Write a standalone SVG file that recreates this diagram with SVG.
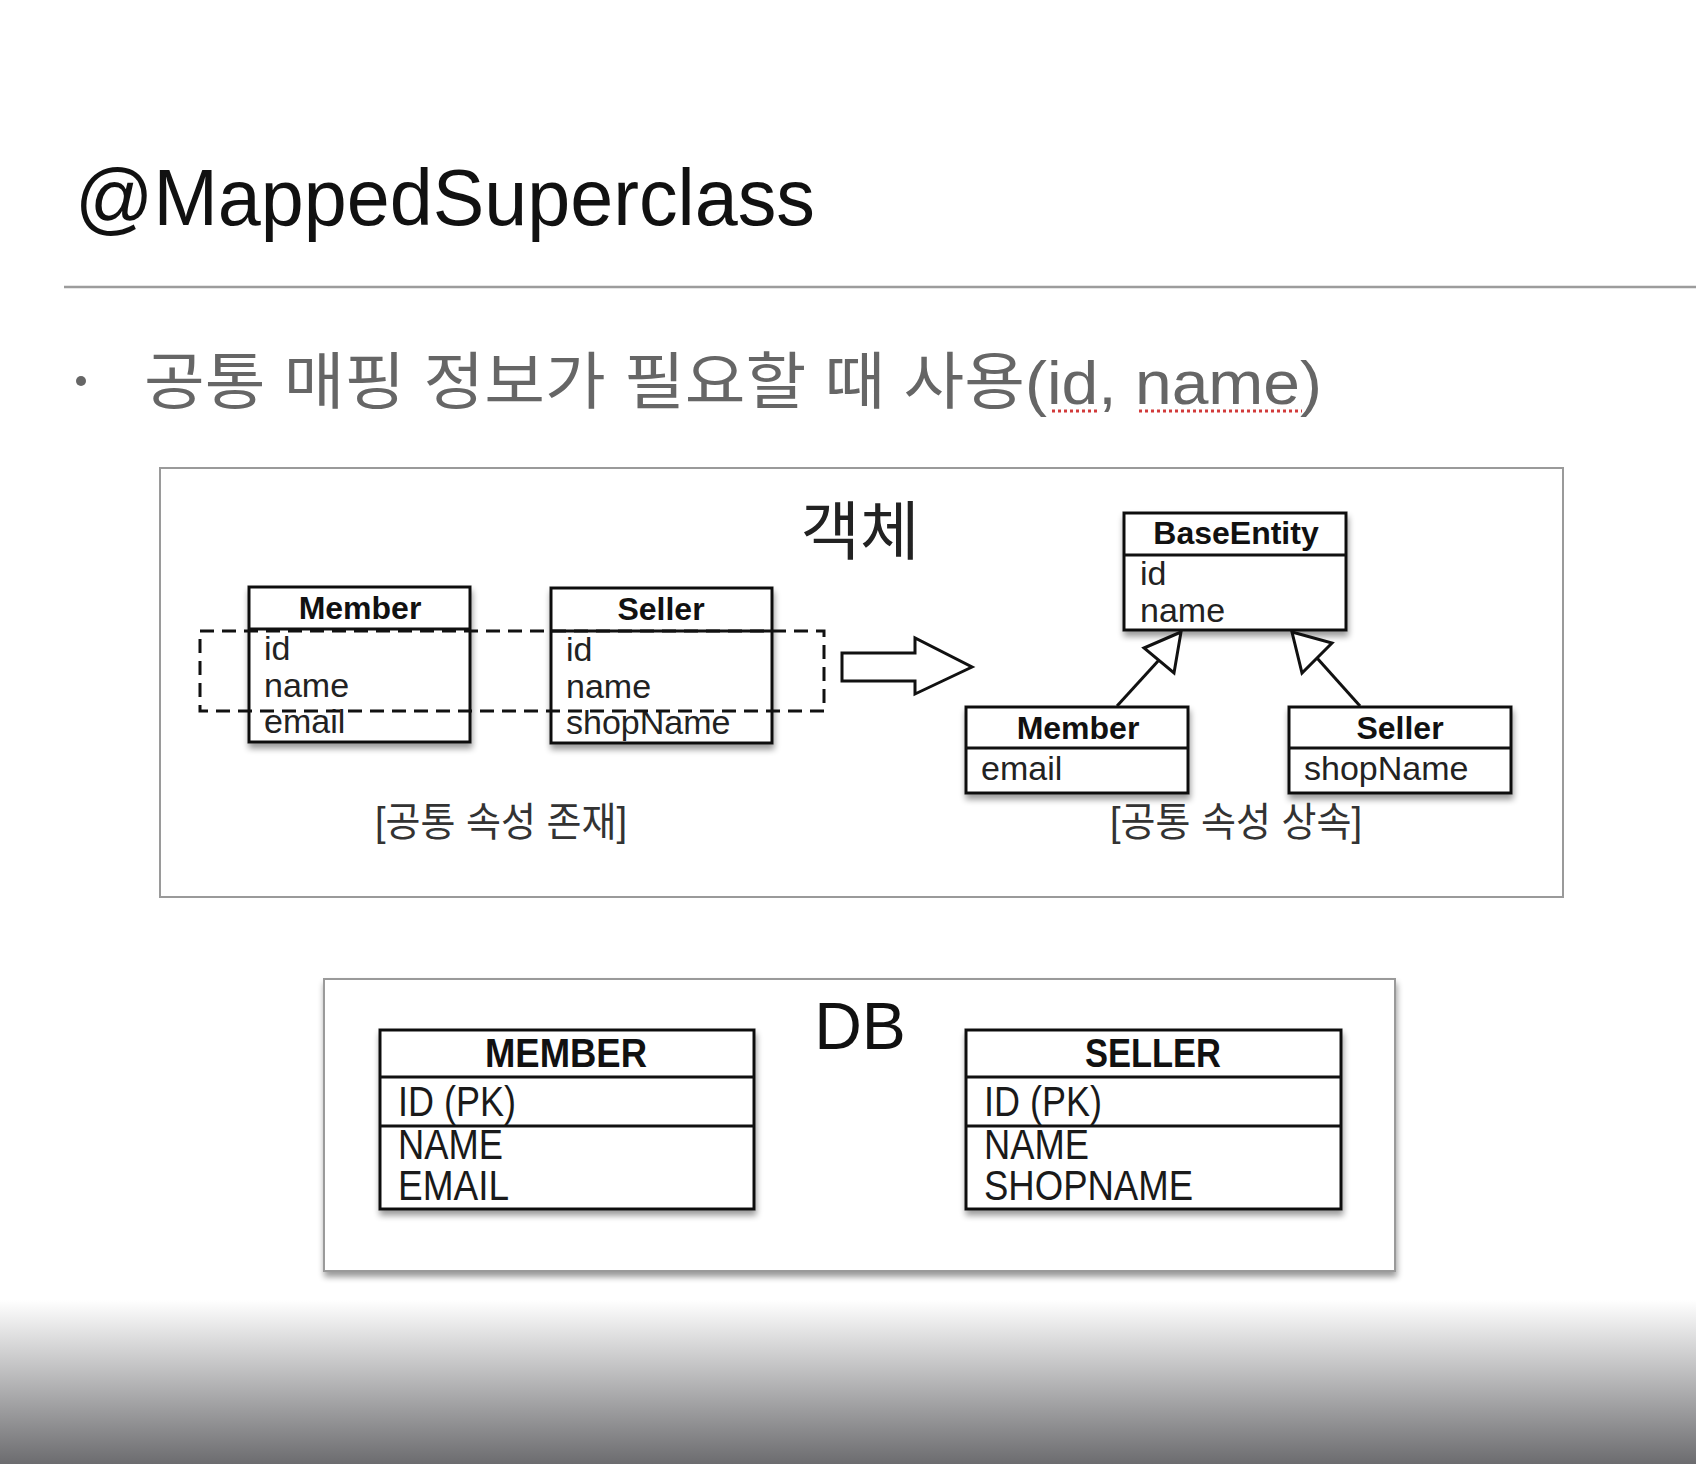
<svg xmlns="http://www.w3.org/2000/svg" width="1696" height="1464" viewBox="0 0 1696 1464">
<defs>
<style>
.sans{font-family:"Liberation Sans","Noto Sans CJK KR",sans-serif;}
.kr{font-family:"Noto Sans CJK KR","Liberation Sans",sans-serif;}
.frame{fill:#fff;stroke:#9a9a9a;stroke-width:2;}
.box{fill:#fff;stroke:#111;stroke-width:3;}
.ln{stroke:#111;stroke-width:3;fill:none;}
.hdr{font-family:"Liberation Sans",sans-serif;font-weight:bold;font-size:32px;fill:#111;text-anchor:middle;}
.fld{font-family:"Liberation Sans",sans-serif;font-size:34px;fill:#222;}
.dhdr{font-family:"Liberation Sans",sans-serif;font-weight:bold;font-size:40px;fill:#111;text-anchor:middle;}
.dfld{font-family:"Liberation Sans",sans-serif;font-size:43px;fill:#1a1a1a;}
.lbl{font-family:"Liberation Sans","Noto Sans CJK KR",sans-serif;font-size:40px;fill:#333;text-anchor:middle;}
.hollow{fill:#fff;stroke:#111;stroke-width:3;stroke-linejoin:miter;}
</style>
<filter id="sh" x="-10%" y="-10%" width="125%" height="140%">
<feGaussianBlur in="SourceAlpha" stdDeviation="3" result="b"/>
<feOffset in="b" dx="1" dy="5" result="o"/>
<feComponentTransfer in="o" result="s"><feFuncA type="linear" slope="0.4"/></feComponentTransfer>
<feMerge><feMergeNode in="s"/><feMergeNode in="SourceGraphic"/></feMerge>
</filter>
<linearGradient id="bot" x1="0" y1="0" x2="0" y2="1">
<stop offset="0" stop-color="#ffffff"/>
<stop offset="1" stop-color="#6c6c6f"/>
</linearGradient>
</defs>
<rect x="0" y="0" width="1696" height="1464" fill="#fff"/>
<rect x="0" y="1300" width="1696" height="164" fill="url(#bot)"/>

<g id="title">
<text class="sans" x="75" y="225" font-size="80" fill="#111" textLength="740" lengthAdjust="spacingAndGlyphs">@MappedSuperclass</text>
<line x1="64" y1="287" x2="1696" y2="287" stroke="#9c9c9c" stroke-width="2.5"/>
</g>

<g id="bullet">
<circle cx="81" cy="381" r="5" fill="#666"/>
<text class="sans" x="144" y="404" font-size="62" fill="#666" textLength="1178" lengthAdjust="spacingAndGlyphs">공통 매핑 정보가 필요할 때 사용(id, name)</text>
<line x1="1052" y1="411" x2="1100" y2="411" stroke="#d23a3a" stroke-width="3" stroke-dasharray="3 3"/>
<line x1="1139" y1="411" x2="1302" y2="411" stroke="#d23a3a" stroke-width="3" stroke-dasharray="3 3"/>
</g>

<g id="object-frame">
<rect class="frame" x="160" y="468" width="1403" height="429"/>
<text class="kr" x="860" y="554" font-size="64" fill="#222" text-anchor="middle" textLength="119" lengthAdjust="spacingAndGlyphs">객체</text>
</g>

<g id="member-left">
<rect class="box" x="249" y="587" width="221" height="155" filter="url(#sh)"/>
<line class="ln" x1="249" y1="629" x2="470" y2="629"/>
<text class="hdr" x="360" y="619">Member</text>
<text class="fld" x="264" y="660">id</text>
<text class="fld" x="264" y="697">name</text>
<text class="fld" x="264" y="733">email</text>
</g>

<g id="seller-left">
<rect class="box" x="551" y="588" width="221" height="155" filter="url(#sh)"/>
<line class="ln" x1="551" y1="631" x2="772" y2="631"/>
<text class="hdr" x="661" y="620">Seller</text>
<text class="fld" x="566" y="661">id</text>
<text class="fld" x="566" y="698">name</text>
<text class="fld" x="566" y="734">shopName</text>
</g>

<g id="common-attrs">
<rect x="200" y="631" width="624" height="80" fill="none" stroke="#111" stroke-width="3" stroke-dasharray="14 8"/>
</g>

<g id="base-entity">
<rect class="box" x="1124" y="513" width="222" height="117" filter="url(#sh)"/>
<line class="ln" x1="1124" y1="555" x2="1346" y2="555"/>
<text class="hdr" x="1236" y="544">BaseEntity</text>
<text class="fld" x="1140" y="585">id</text>
<text class="fld" x="1140" y="622">name</text>
</g>

<g id="member-right">
<rect class="box" x="966" y="707" width="222" height="86" filter="url(#sh)"/>
<line class="ln" x1="966" y1="748" x2="1188" y2="748"/>
<text class="hdr" x="1078" y="739">Member</text>
<text class="fld" x="981" y="780">email</text>
</g>

<g id="seller-right">
<rect class="box" x="1289" y="707" width="222" height="86" filter="url(#sh)"/>
<line class="ln" x1="1289" y1="748" x2="1511" y2="748"/>
<text class="hdr" x="1400" y="739">Seller</text>
<text class="fld" x="1304" y="780">shopName</text>
</g>

<g id="connectors">
<polygon class="hollow" points="842,653 915,653 915,638 972,667 915,694 915,681 842,681"/>
<line class="ln" x1="1117" y1="706" x2="1159" y2="660"/>
<polygon class="hollow" points="1181,632 1144,648 1174,673"/>
<line class="ln" x1="1360" y1="706" x2="1317" y2="658"/>
<polygon class="hollow" points="1292,632 1332,643 1302,673"/>
</g>

<g id="labels">
<text class="lbl" x="501" y="836" textLength="252" lengthAdjust="spacingAndGlyphs">[공통 속성 존재]</text>
<text class="lbl" x="1236" y="836" textLength="252" lengthAdjust="spacingAndGlyphs">[공통 속성 상속]</text>
</g>

<g id="db-frame">
<rect class="frame" x="324" y="979" width="1071" height="292" filter="url(#sh)"/>
<text class="sans" x="860" y="1049" font-size="66" fill="#111" text-anchor="middle">DB</text>
</g>

<g id="member-table">
<rect class="box" x="380" y="1030" width="374" height="179" filter="url(#sh)"/>
<line class="ln" x1="380" y1="1077" x2="754" y2="1077"/>
<line class="ln" x1="380" y1="1126" x2="754" y2="1126"/>
<text class="dhdr" x="566" y="1067" textLength="162" lengthAdjust="spacingAndGlyphs">MEMBER</text>
<text class="dfld" x="398" y="1116" textLength="118" lengthAdjust="spacingAndGlyphs">ID (PK)</text>
<text class="dfld" x="398" y="1159" textLength="105" lengthAdjust="spacingAndGlyphs">NAME</text>
<text class="dfld" x="398" y="1200" textLength="111" lengthAdjust="spacingAndGlyphs">EMAIL</text>
</g>

<g id="seller-table">
<rect class="box" x="966" y="1030" width="375" height="179" filter="url(#sh)"/>
<line class="ln" x1="966" y1="1077" x2="1341" y2="1077"/>
<line class="ln" x1="966" y1="1126" x2="1341" y2="1126"/>
<text class="dhdr" x="1153" y="1067" textLength="136" lengthAdjust="spacingAndGlyphs">SELLER</text>
<text class="dfld" x="984" y="1116" textLength="118" lengthAdjust="spacingAndGlyphs">ID (PK)</text>
<text class="dfld" x="984" y="1159" textLength="105" lengthAdjust="spacingAndGlyphs">NAME</text>
<text class="dfld" x="984" y="1200" textLength="209" lengthAdjust="spacingAndGlyphs">SHOPNAME</text>
</g>
</svg>
